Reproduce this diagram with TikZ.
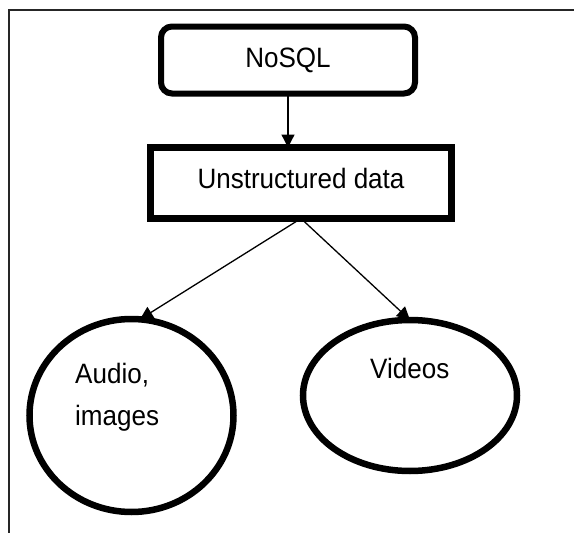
\documentclass[tikz,border=0pt]{standalone}
\usepackage{fontspec}
\setmainfont{Liberation Sans}[FakeStretch=0.93]
\usetikzlibrary{arrows.meta, shapes.geometric, positioning}

\begin{document}
\begin{tikzpicture}[
  x=1pt, y=-1pt,
  >={Triangle[width=13pt,length=13pt]},
  rootbox/.style={draw, line width=6pt, rounded corners=11pt,
                  minimum width=254pt, minimum height=67pt,
                  inner sep=0pt, outer sep=0pt, font=\fontsize{28}{42}\selectfont},
  databox/.style={draw, line width=7pt,
                  minimum width=301pt, minimum height=71pt,
                  inner sep=0pt, outer sep=0pt, font=\fontsize{28}{42}\selectfont},
  leaf/.style={draw, ellipse, line width=6.5pt, inner sep=0pt, outer sep=0pt},
  lbl/.style={font=\fontsize{28}{42}\selectfont, inner sep=0pt, align=left},
  link/.style={->, line width=1.3pt}
]
\useasboundingbox (0,0) rectangle (574,533);

% Cell border
\draw[line width=1.2pt, black!85] (574,10) -- (9,10) -- (9,533);

% Top boxes
\node[rootbox] (nosql) at (288,60) {NoSQL};
\node[databox, text depth=8.4pt] (unstr) at (301,183) {Unstructured data};

\draw[link] (nosql.south) -- (nosql.south |- unstr.north);

% Leaves
\node[leaf, minimum width=204pt, minimum height=193pt] (audio) at (131.5,415.5) {};
\node[leaf, minimum width=214pt, minimum height=151pt] (videos) at (410,395.5) {};

\node[lbl, anchor=north west] (audiotxt) at (75,363.5) {Audio,\\images};
\node[lbl, anchor=base west] (videostxt) at (370,378) {Videos};

\draw[link] (unstr.south) -- (audio.85);
\draw[link] (unstr.south) -- (videos.north);

\end{tikzpicture}
\end{document}
